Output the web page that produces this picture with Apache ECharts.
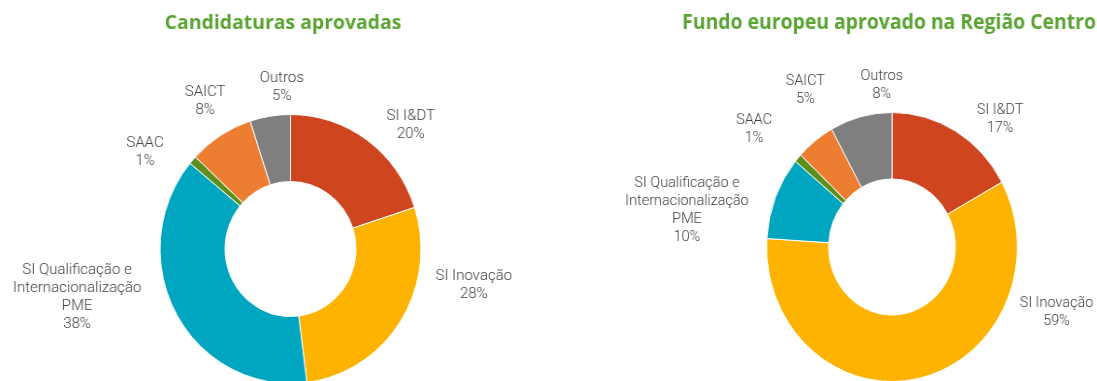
<!DOCTYPE html>
<html>
<head>
<meta charset="utf-8">
<script src="https://cdn.jsdelivr.net/npm/echarts@6/dist/echarts.min.js"></script>
<style>
  html, body { margin: 0; padding: 0; background: #fff; overflow: hidden; width: 1097px; height: 381px; }
  .chart { position: absolute; left: 0; top: 0; width: 1200px; height: 381px; }
</style>
</head>
<body>
<div id="left" class="chart"></div>
<div id="right" class="chart"></div>
<script>
// Programme categories (shared by both donuts)
const categories = [
  'SI I&DT',
  'SI Inovação',
  'SI Qualificação e\nInternacionalização\nPME',
  'SAAC',
  'SAICT',
  'Outros'
];
// Share of approved applications (%)
const candidaturas = [20, 28, 38, 1, 8, 5];
// Share of approved European funding in the Centro region (%)
const fundoEuropeu = [17, 59, 10, 1, 5, 8];
const titles = ['Candidaturas aprovadas', 'Fundo europeu aprovado na Região Centro'];
const colors = ['#cf4520', '#fdb300', '#00a5bf', '#5e8e1c', '#ed7d31', '#7f7f7f'];

// Panel layout: donut centre/radii, horizontal squeeze, title centre and label offsets from the donut centre
const panels = [
  {
    el: 'left', title: titles[0], values: candidaturas,
    cx: 290.5, cy: 249, radius: [67.5, 134.5], squeeze: 0.97, titleX: 282.8, titleSize: 20,
    labelOffsets: [[124, -124], [189, 36], [-220, 48], [-150, -97], [-88, -147.5], [-9, -161.5]]
  },
  {
    el: 'right', title: titles[1], values: fundoEuropeu,
    cx: 892, cy: 247, radius: [68, 134.5], squeeze: 0.932, titleX: 888.8, titleSize: 20.8,
    labelOffsets: [[116, -128], [176.5, 65], [-220, -37], [-148, -118], [-93, -157], [-11, -161.5]]
  }
];

panels.forEach(function (p) {
  const dom = document.getElementById(p.el);
  dom.style.transformOrigin = p.cx + 'px 0px';
  dom.style.transform = 'scaleX(' + p.squeeze + ')';
  const chart = echarts.init(dom, null, { renderer: 'canvas' });
  chart.setOption({
    backgroundColor: 'transparent',
    animation: false,
    title: {
      text: p.title,
      left: p.titleX,
      top: 23,
      padding: 0,
      textAlign: 'center',
      textVerticalAlign: 'middle',
      textStyle: {
        fontFamily: '"Open Sans", sans-serif',
        fontWeight: 'bold',
        fontSize: p.titleSize,
        color: '#5aa532'
      }
    },
    series: [{
      type: 'pie',
      silent: true,
      center: [p.cx, p.cy],
      radius: p.radius,
      startAngle: 90,
      clockwise: true,
      avoidLabelOverlap: false,
      data: categories.map(function (name, i) {
        return { name: name, value: p.values[i], itemStyle: { color: colors[i] } };
      }),
      itemStyle: { borderColor: '#ffffff', borderWidth: 1 },
      label: {
        show: true,
        position: 'outside',
        formatter: '{b}\n{c}%',
        fontFamily: 'Roboto, sans-serif',
        fontWeight: 300,
        fontSize: 15.5,
        lineHeight: 18,
        color: '#404040'
      },
      labelLine: { show: false },
      labelLayout: function (params) {
        const off = p.labelOffsets[params.dataIndex];
        return {
          x: p.cx + off[0],
          y: p.cy + off[1],
          align: 'center',
          verticalAlign: 'middle'
        };
      }
    }]
  });
});
</script>
</body>
</html>
